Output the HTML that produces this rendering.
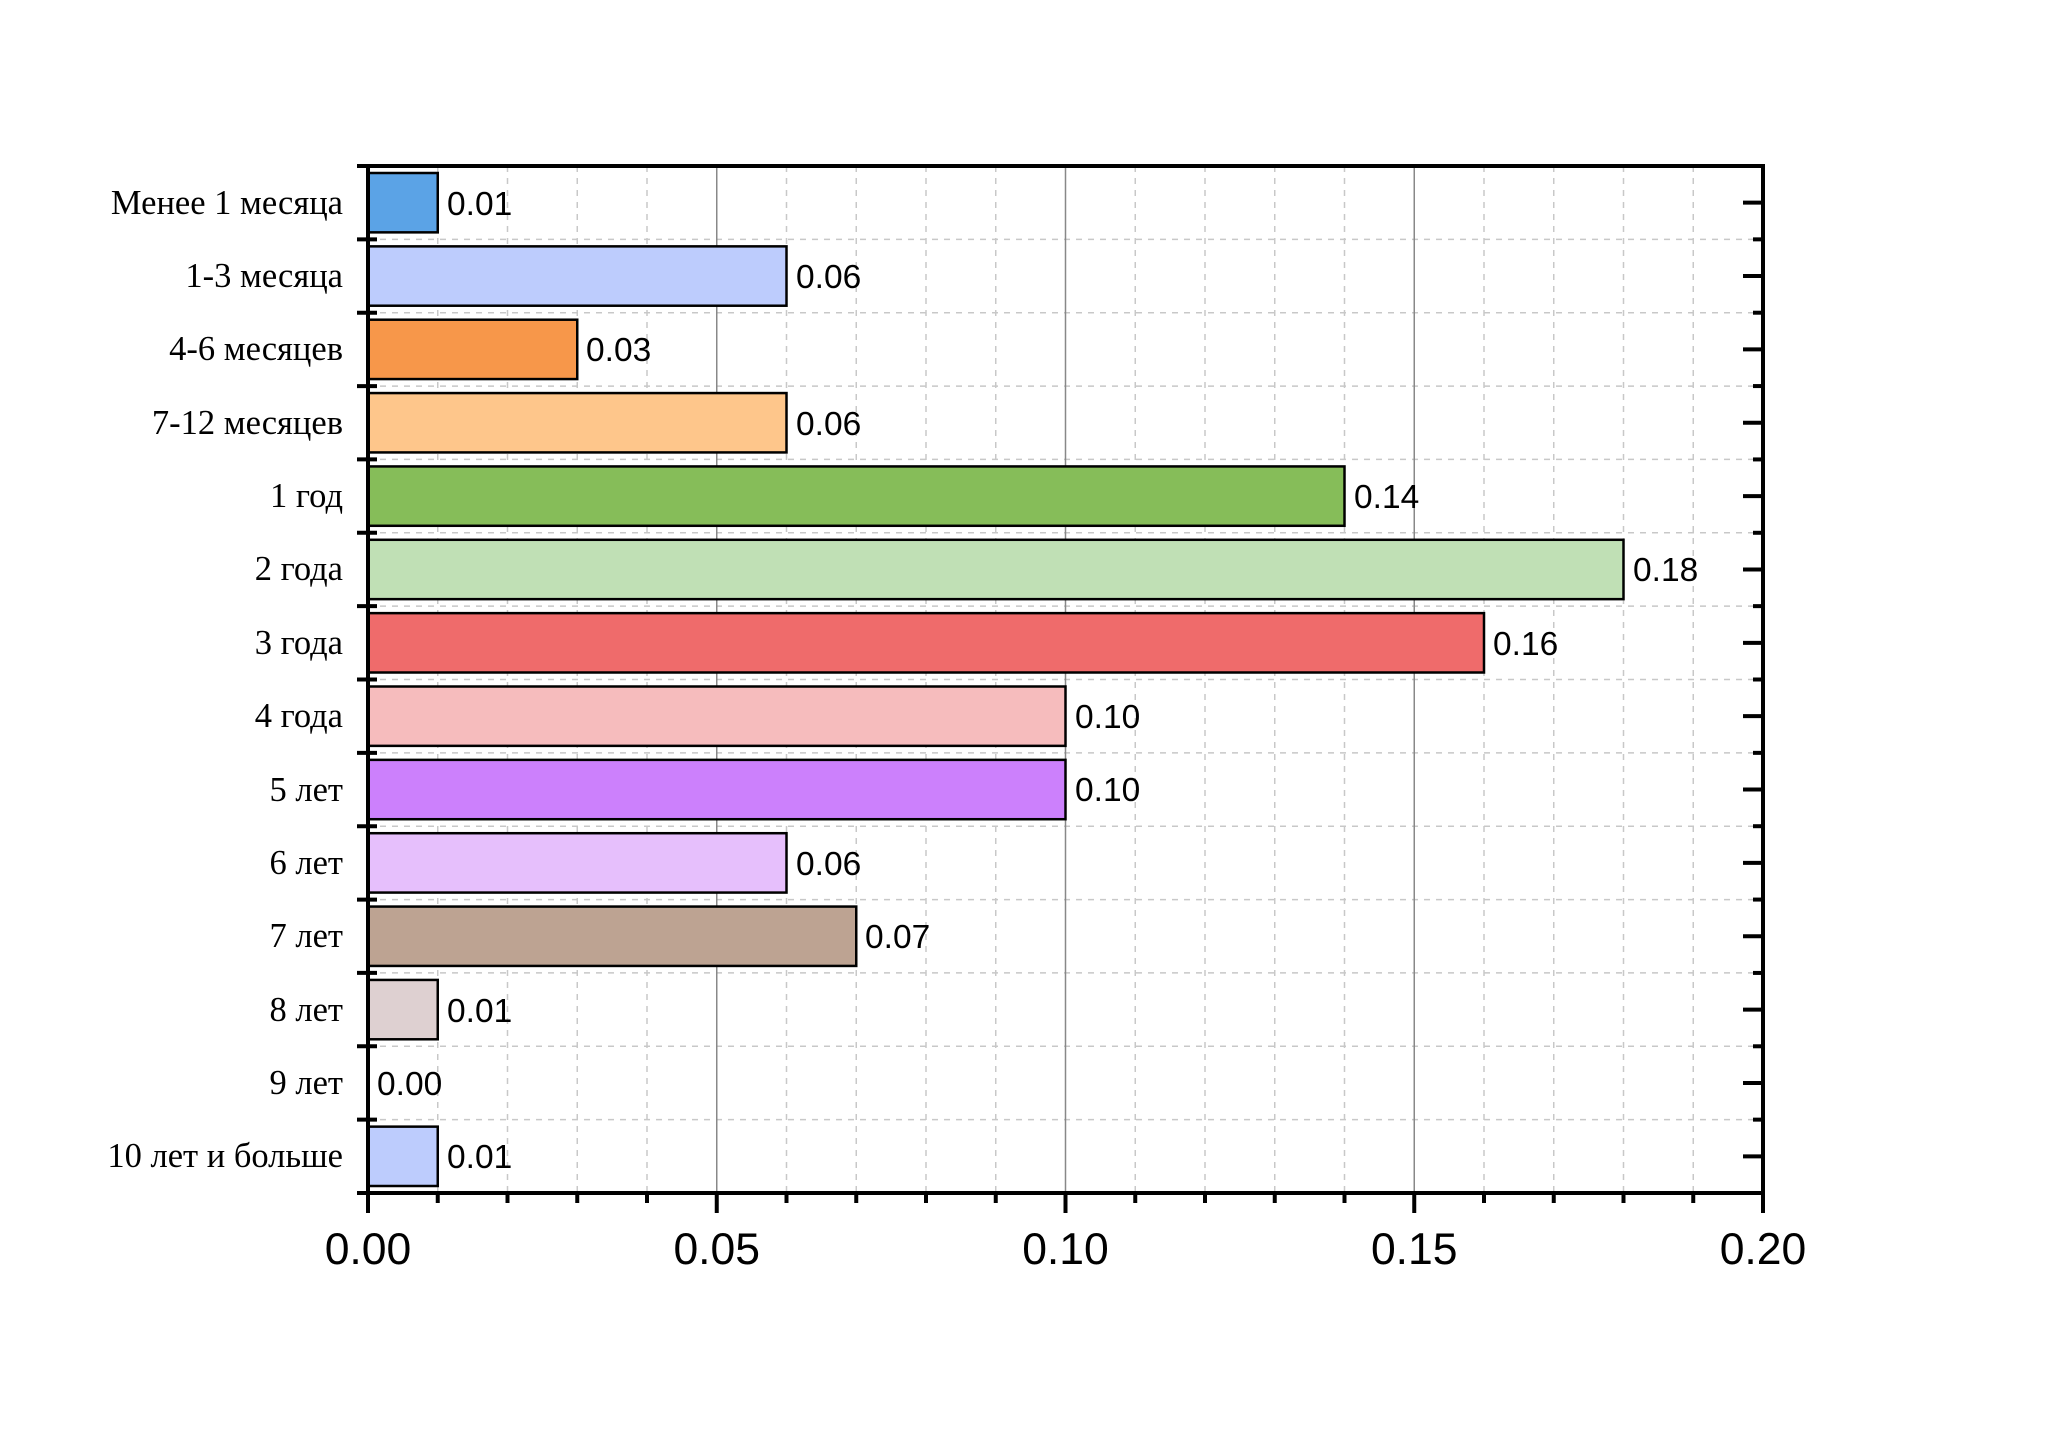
<!DOCTYPE html>
<html><head><meta charset="utf-8"><style>html,body{margin:0;padding:0;background:#fff}</style></head>
<body>
<svg width="2048" height="1430" xmlns="http://www.w3.org/2000/svg">
<rect width="2048" height="1430" fill="#fff"/>
<g stroke="#c8c8c8" stroke-width="1.5" stroke-dasharray="6,6">
<line x1="437.75" y1="166" x2="437.75" y2="1193"/><line x1="507.5" y1="166" x2="507.5" y2="1193"/><line x1="577.25" y1="166" x2="577.25" y2="1193"/><line x1="647" y1="166" x2="647" y2="1193"/>
<line x1="786.5" y1="166" x2="786.5" y2="1193"/><line x1="856.25" y1="166" x2="856.25" y2="1193"/><line x1="926" y1="166" x2="926" y2="1193"/><line x1="995.75" y1="166" x2="995.75" y2="1193"/>
<line x1="1135.25" y1="166" x2="1135.25" y2="1193"/><line x1="1205" y1="166" x2="1205" y2="1193"/><line x1="1274.75" y1="166" x2="1274.75" y2="1193"/><line x1="1344.5" y1="166" x2="1344.5" y2="1193"/>
<line x1="1484" y1="166" x2="1484" y2="1193"/><line x1="1553.75" y1="166" x2="1553.75" y2="1193"/><line x1="1623.5" y1="166" x2="1623.5" y2="1193"/><line x1="1693.25" y1="166" x2="1693.25" y2="1193"/>
<line x1="368" y1="239.36" x2="1763" y2="239.36"/><line x1="368" y1="312.71" x2="1763" y2="312.71"/><line x1="368" y1="386.07" x2="1763" y2="386.07"/><line x1="368" y1="459.43" x2="1763" y2="459.43"/><line x1="368" y1="532.79" x2="1763" y2="532.79"/><line x1="368" y1="606.14" x2="1763" y2="606.14"/><line x1="368" y1="679.5" x2="1763" y2="679.5"/><line x1="368" y1="752.86" x2="1763" y2="752.86"/><line x1="368" y1="826.21" x2="1763" y2="826.21"/><line x1="368" y1="899.57" x2="1763" y2="899.57"/><line x1="368" y1="972.93" x2="1763" y2="972.93"/><line x1="368" y1="1046.29" x2="1763" y2="1046.29"/><line x1="368" y1="1119.64" x2="1763" y2="1119.64"/>
</g>
<g stroke="#888" stroke-width="1.5">
<line x1="716.75" y1="166" x2="716.75" y2="1193"/><line x1="1065.5" y1="166" x2="1065.5" y2="1193"/><line x1="1414.25" y1="166" x2="1414.25" y2="1193"/>
</g>
<g stroke="#000" stroke-width="2.5">
<rect x="368" y="173" width="69.75" height="59.36" fill="#5ba3e6"/>
<rect x="368" y="246.36" width="418.5" height="59.36" fill="#bdccfd"/>
<rect x="368" y="319.71" width="209.25" height="59.36" fill="#f7974a"/>
<rect x="368" y="393.07" width="418.5" height="59.36" fill="#fec68b"/>
<rect x="368" y="466.43" width="976.5" height="59.36" fill="#86bd59"/>
<rect x="368" y="539.79" width="1255.5" height="59.36" fill="#c0e0b5"/>
<rect x="368" y="613.14" width="1116" height="59.36" fill="#ef6b6b"/>
<rect x="368" y="686.5" width="697.5" height="59.36" fill="#f6bcbd"/>
<rect x="368" y="759.86" width="697.5" height="59.36" fill="#cc80fc"/>
<rect x="368" y="833.21" width="418.5" height="59.36" fill="#e6bffc"/>
<rect x="368" y="906.57" width="488.25" height="59.36" fill="#bda392"/>
<rect x="368" y="979.93" width="69.75" height="59.36" fill="#ded0d1"/>
<rect x="368" y="1126.64" width="69.75" height="59.36" fill="#bdccfd"/>
</g>
<g font-family="Liberation Sans, sans-serif" font-size="33.5" fill="#000">
<text x="447" y="215">0.01</text><text x="796" y="288">0.06</text><text x="586" y="361">0.03</text><text x="796" y="435">0.06</text><text x="1354" y="508">0.14</text><text x="1633" y="581">0.18</text><text x="1493" y="655">0.16</text><text x="1075" y="728">0.10</text><text x="1075" y="801">0.10</text><text x="796" y="875">0.06</text><text x="865" y="948">0.07</text><text x="447" y="1022">0.01</text><text x="377" y="1095">0.00</text><text x="447" y="1168">0.01</text>
</g>
<g font-family="Liberation Serif, serif" font-size="34.5" fill="#000" text-anchor="end">
<text x="343" y="214">Менее 1 месяца</text><text x="343" y="287">1-3 месяца</text><text x="343" y="360">4-6 месяцев</text><text x="343" y="434">7-12 месяцев</text><text x="343" y="507">1 год</text><text x="343" y="580">2 года</text><text x="343" y="654">3 года</text><text x="343" y="727">4 года</text><text x="343" y="801">5 лет</text><text x="343" y="874">6 лет</text><text x="343" y="947">7 лет</text><text x="343" y="1021">8 лет</text><text x="343" y="1094">9 лет</text><text x="343" y="1167">10 лет и больше</text>
</g>
<g stroke="#000" stroke-width="4">
<line x1="357" y1="166" x2="1765" y2="166"/><line x1="357" y1="1193" x2="1765" y2="1193"/>
<line x1="368" y1="166" x2="368" y2="1213"/><line x1="1763" y1="164" x2="1763" y2="1213"/>
<line x1="357" y1="239.36" x2="377" y2="239.36"/><line x1="357" y1="312.71" x2="377" y2="312.71"/><line x1="357" y1="386.07" x2="377" y2="386.07"/><line x1="357" y1="459.43" x2="377" y2="459.43"/><line x1="357" y1="532.79" x2="377" y2="532.79"/><line x1="357" y1="606.14" x2="377" y2="606.14"/><line x1="357" y1="679.5" x2="377" y2="679.5"/><line x1="357" y1="752.86" x2="377" y2="752.86"/><line x1="357" y1="826.21" x2="377" y2="826.21"/><line x1="357" y1="899.57" x2="377" y2="899.57"/><line x1="357" y1="972.93" x2="377" y2="972.93"/><line x1="357" y1="1046.29" x2="377" y2="1046.29"/><line x1="357" y1="1119.64" x2="377" y2="1119.64"/>
<line x1="1753" y1="239.36" x2="1763" y2="239.36"/><line x1="1753" y1="312.71" x2="1763" y2="312.71"/><line x1="1753" y1="386.07" x2="1763" y2="386.07"/><line x1="1753" y1="459.43" x2="1763" y2="459.43"/><line x1="1753" y1="532.79" x2="1763" y2="532.79"/><line x1="1753" y1="606.14" x2="1763" y2="606.14"/><line x1="1753" y1="679.5" x2="1763" y2="679.5"/><line x1="1753" y1="752.86" x2="1763" y2="752.86"/><line x1="1753" y1="826.21" x2="1763" y2="826.21"/><line x1="1753" y1="899.57" x2="1763" y2="899.57"/><line x1="1753" y1="972.93" x2="1763" y2="972.93"/><line x1="1753" y1="1046.29" x2="1763" y2="1046.29"/><line x1="1753" y1="1119.64" x2="1763" y2="1119.64"/>
<line x1="1743" y1="202.68" x2="1763" y2="202.68"/><line x1="1743" y1="276.04" x2="1763" y2="276.04"/><line x1="1743" y1="349.39" x2="1763" y2="349.39"/><line x1="1743" y1="422.75" x2="1763" y2="422.75"/><line x1="1743" y1="496.11" x2="1763" y2="496.11"/><line x1="1743" y1="569.46" x2="1763" y2="569.46"/><line x1="1743" y1="642.82" x2="1763" y2="642.82"/><line x1="1743" y1="716.18" x2="1763" y2="716.18"/><line x1="1743" y1="789.54" x2="1763" y2="789.54"/><line x1="1743" y1="862.89" x2="1763" y2="862.89"/><line x1="1743" y1="936.25" x2="1763" y2="936.25"/><line x1="1743" y1="1009.61" x2="1763" y2="1009.61"/><line x1="1743" y1="1082.96" x2="1763" y2="1082.96"/><line x1="1743" y1="1156.32" x2="1763" y2="1156.32"/>
<line x1="437.75" y1="1193" x2="437.75" y2="1203"/><line x1="507.5" y1="1193" x2="507.5" y2="1203"/><line x1="577.25" y1="1193" x2="577.25" y2="1203"/><line x1="647" y1="1193" x2="647" y2="1203"/><line x1="716.75" y1="1193" x2="716.75" y2="1213"/>
<line x1="786.5" y1="1193" x2="786.5" y2="1203"/><line x1="856.25" y1="1193" x2="856.25" y2="1203"/><line x1="926" y1="1193" x2="926" y2="1203"/><line x1="995.75" y1="1193" x2="995.75" y2="1203"/><line x1="1065.5" y1="1193" x2="1065.5" y2="1213"/>
<line x1="1135.25" y1="1193" x2="1135.25" y2="1203"/><line x1="1205" y1="1193" x2="1205" y2="1203"/><line x1="1274.75" y1="1193" x2="1274.75" y2="1203"/><line x1="1344.5" y1="1193" x2="1344.5" y2="1203"/><line x1="1414.25" y1="1193" x2="1414.25" y2="1213"/>
<line x1="1484" y1="1193" x2="1484" y2="1203"/><line x1="1553.75" y1="1193" x2="1553.75" y2="1203"/><line x1="1623.5" y1="1193" x2="1623.5" y2="1203"/><line x1="1693.25" y1="1193" x2="1693.25" y2="1203"/>
</g>
<g font-family="Liberation Sans, sans-serif" font-size="44.5" fill="#000" text-anchor="middle">
<text x="368" y="1264">0.00</text><text x="716.75" y="1264">0.05</text><text x="1065.5" y="1264">0.10</text><text x="1414.25" y="1264">0.15</text><text x="1763" y="1264">0.20</text>
</g>
</svg>
</body></html>
